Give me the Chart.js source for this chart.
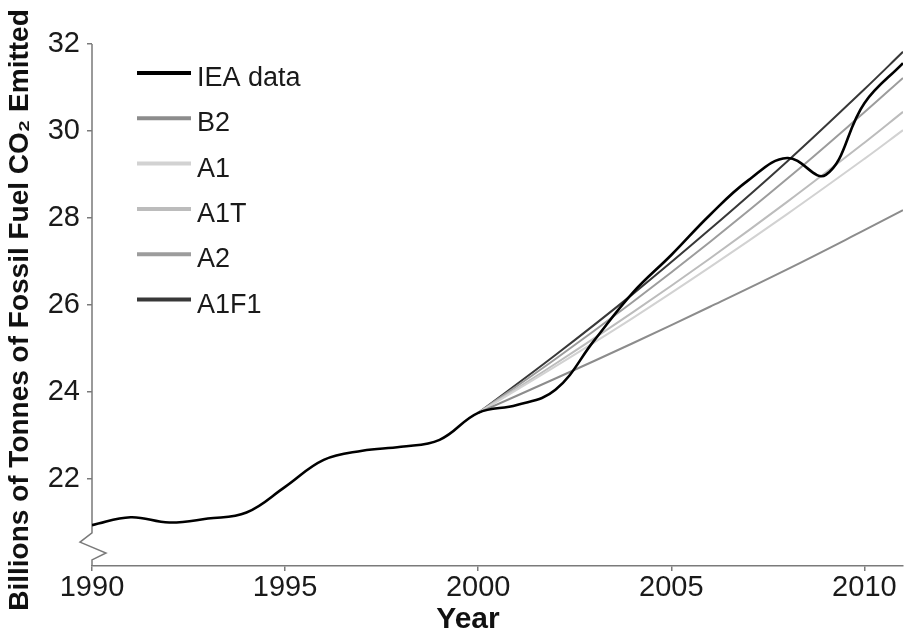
<!DOCTYPE html>
<html>
<head>
<meta charset="utf-8">
<script src="https://cdn.jsdelivr.net/npm/chart.js@4/dist/chart.umd.min.js"></script>
<style>
html,body{margin:0;padding:0;background:#fff;}
canvas{display:block;}
</style>
</head>
<body>
<canvas id="c" width="904" height="635"></canvas>
<script>
// ---- data ----
const years = [1990,1991,1992,1993,1994,1995,1996,1997,1998,1999,2000,2001,2002,2003,2004,2005,2006,2007,2008,2009,2010,2011];
const ieaData = [20.94,21.12,21.00,21.09,21.23,21.82,22.44,22.65,22.74,22.90,23.52,23.70,24.05,25.18,26.28,27.15,28.07,28.87,29.38,28.99,30.64,31.56];

const scenarioYears = [2000,2002,2004,2006,2008,2010,2011];
const b2   = [23.52,24.31,25.12,25.96,26.82,27.72,28.18];
const a1   = [23.52,24.59,25.70,26.87,28.09,29.36,30.02];
const a1t  = [23.52,24.65,25.83,27.07,28.37,29.73,30.44];
const a2   = [23.52,24.76,26.07,27.45,28.90,30.43,31.22];
const a1f1 = [23.52,24.85,26.25,27.74,29.30,30.96,31.82];

const seriesLabels = ['IEA data','B2','A1','A1T','A2','A1F1'];
const xTicks = [1990,1995,2000,2005,2010];
const yTicks = [22,24,26,28,30,32];
const xTitle = 'Year';
const yTitle = 'Billions of Tonnes of Fossil Fuel CO\u2082 Emitted';

const FONT = "'Liberation Sans', Arial, sans-serif";
const AXIS = '#7a7a7a';

function pts(xs, ys){ return xs.map((x,i)=>({x:x, y:ys[i]})); }

const styles = [
  {color:'#000000', width:2.6},
  {color:'#8c8c8c', width:2},
  {color:'#d2d2d2', width:2},
  {color:'#bcbcbc', width:2},
  {color:'#9c9c9c', width:2},
  {color:'#383838', width:2}
];
const seriesData = [pts(years, ieaData), pts(scenarioYears,b2), pts(scenarioYears,a1), pts(scenarioYears,a1t), pts(scenarioYears,a2), pts(scenarioYears,a1f1)];

const datasets = seriesLabels.map((lab,i)=>({
  label: lab,
  data: seriesData[i],
  borderColor: styles[i].color,
  backgroundColor: styles[i].color,
  borderWidth: styles[i].width,
  pointRadius: 0,
  tension: 0.4,
  fill: false
}));

const decor = {
  id: 'decor',
  beforeDatasetsDraw(chart){
    const {ctx, scales:{x, y}} = chart;
    const ax = x.getPixelForValue(x.min);
    ctx.save();
    ctx.strokeStyle = AXIS;
    ctx.lineWidth = 1.5;
    ctx.lineJoin = 'miter';
    ctx.beginPath();
    ctx.moveTo(ax, y.getPixelForValue(y.max));
    ctx.lineTo(ax, y.getPixelForValue(20.76));
    ctx.lineTo(ax-12, y.getPixelForValue(20.55));
    ctx.lineTo(ax+14, y.getPixelForValue(20.30));
    ctx.lineTo(ax, y.getPixelForValue(20.14));
    ctx.lineTo(ax, y.getPixelForValue(y.min));
    ctx.stroke();
    ctx.restore();
  },
  afterDraw(chart){
    const {ctx, chartArea} = chart;
    ctx.save();
    // legend
    const x0 = chartArea.left + 45;
    chart.data.datasets.forEach((ds,i)=>{
      const yy = chartArea.top + 29 + i*45.3;
      ctx.strokeStyle = ds.borderColor;
      ctx.lineWidth = 4;
      ctx.beginPath();
      ctx.moveTo(x0, yy);
      ctx.lineTo(x0+54, yy);
      ctx.stroke();
      ctx.fillStyle = '#1a1a1a';
      ctx.font = '27px ' + FONT;
      ctx.textAlign = 'left';
      ctx.textBaseline = 'alphabetic';
      ctx.fillText(ds.label, x0+60, yy+13);
    });
    // axis titles
    ctx.fillStyle = '#111';
    ctx.font = 'bold 30px ' + FONT;
    ctx.textAlign = 'center';
    ctx.textBaseline = 'alphabetic';
    ctx.fillText(xTitle, 468, 628);
    ctx.font = 'bold 28px ' + FONT;
    ctx.translate(28, 310);
    ctx.rotate(-Math.PI/2);
    ctx.fillText(yTitle, 0, 0);
    ctx.restore();
  }
};

new Chart(document.getElementById('c'), {
  type: 'line',
  data: { datasets: datasets },
  plugins: [decor],
  options: {
    responsive: false,
    animation: false,
    devicePixelRatio: 1,
    layout: { padding: { top: 44, right: 1, left: 0, bottom: 0 } },
    plugins: { legend: { display: false }, tooltip: { enabled: false } },
    scales: {
      x: {
        type: 'linear',
        min: 1990, max: 2011,
        afterBuildTicks(s){ s.ticks = xTicks.map(v=>({value:v})); },
        afterFit(s){ s.height = 69; },
        grid: { drawOnChartArea: false, drawTicks: true, tickLength: 5, color: AXIS, lineWidth: 1.5 },
        border: { display: true, color: AXIS, width: 1.5 },
        ticks: { color: '#1a1a1a', font: { family: FONT, size: 29 }, padding: 0, maxRotation: 0, autoSkip: false,
                 callback: v => String(v) }
      },
      y: {
        type: 'linear',
        min: 20, max: 32,
        afterBuildTicks(s){ s.ticks = yTicks.map(v=>({value:v})); },
        afterFit(s){ s.width = 92; },
        grid: { drawOnChartArea: false, drawTicks: true, tickLength: 5, color: AXIS, lineWidth: 1.5 },
        border: { display: false },
        ticks: { color: '#1a1a1a', font: { family: FONT, size: 29 }, padding: 7, autoSkip: false,
                 callback: v => String(v) }
      }
    }
  }
});
</script>
</body>
</html>
